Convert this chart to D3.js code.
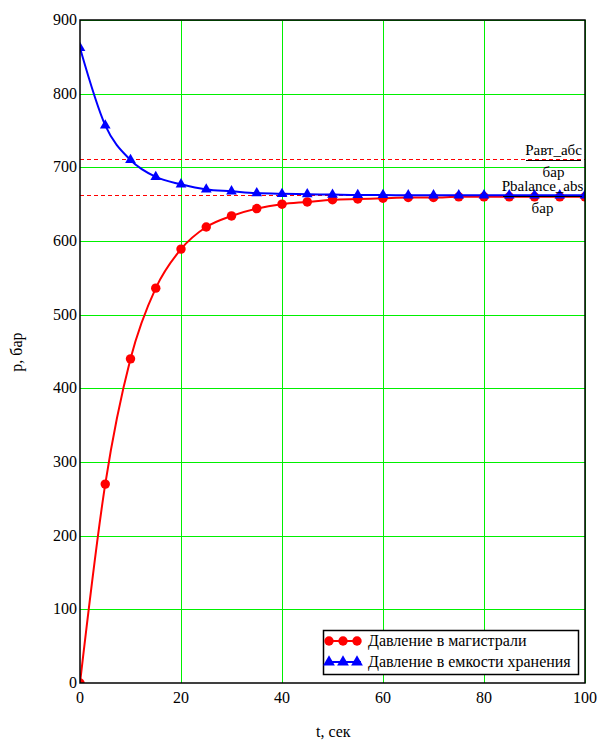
<!DOCTYPE html>
<html lang="ru">
<head>
<meta charset="UTF-8">
<title>Давление</title>
<script src="https://d3js.org/d3.v7.min.js"></script>
<style>
  body { margin: 0; background: #fff; }
  svg text { font-family: "Liberation Serif", "DejaVu Serif", serif; fill: #000; }
</style>
</head>
<body>
<svg width="613" height="743" font-family="Liberation Serif, DejaVu Serif, serif"></svg>
<script>
// time, seconds
var tValues = [0, 5, 10, 15, 20, 25, 30, 35, 40, 45, 50, 55, 60, 65, 70, 75, 80, 85, 90, 95, 100];
// pressure in the main line, bar
var pMain = [0, 270, 440, 536, 589, 619, 634, 644, 650, 653, 656, 657, 658, 659, 659, 660, 660, 660, 660, 660, 660];
// pressure in the storage tank, bar
var pTank = [862, 757, 710, 687, 677, 670, 667.5, 665, 664, 663.5, 663, 662.5, 662.5, 662, 662, 662, 662, 662, 662, 662, 662];
var pAvtAbs = 711;
var pBalanceAbs = 662;
var xTicks = [0, 20, 40, 60, 80, 100];
var yTicks = [0, 100, 200, 300, 400, 500, 600, 700, 800, 900];
var legendLabels = ["Давление в магистрали", "Давление в емкости хранения"];

var svg = d3.select("svg");
var mLeft = 80, mRight = 585, mTop = 20, mBottom = 683;

var x = d3.scaleLinear().domain([0, 100]).range([mLeft, mRight]);
var y = d3.scaleLinear().domain([0, 900]).range([mBottom, mTop]);
var crisp = v => Math.round(v) + 0.5;

svg.append("clipPath").attr("id", "clip")
    .append("rect")
    .attr("x", mLeft).attr("y", mTop)
    .attr("width", mRight - mLeft).attr("height", mBottom - mTop);

// grid
svg.append("g").selectAll("line")
    .data(xTicks.slice(1))
    .enter().append("line")
    .attr("x1", d => crisp(x(d))).attr("x2", d => crisp(x(d)))
    .attr("y1", mTop).attr("y2", mBottom)
    .attr("stroke", "#00f000").attr("stroke-width", 1);

svg.append("g").selectAll("line")
    .data(yTicks.slice(1))
    .enter().append("line")
    .attr("x1", mLeft).attr("x2", mRight)
    .attr("y1", d => crisp(y(d))).attr("y2", d => crisp(y(d)))
    .attr("stroke", "#00f000").attr("stroke-width", 1);

// reference lines
[pAvtAbs, pBalanceAbs].forEach(function (v) {
    svg.append("line")
        .attr("x1", mLeft).attr("x2", mRight)
        .attr("y1", crisp(y(v))).attr("y2", crisp(y(v)))
        .attr("stroke", "#ff0000").attr("stroke-width", 1)
        .attr("stroke-dasharray", "4,3");
});

var plot = svg.append("g").attr("clip-path", "url(#clip)");

var line = d3.line().curve(d3.curveMonotoneX);

var series = [
    { values: pMain, color: "#ff0000", marker: d3.symbolCircle, size: 70, legendSize: 70 },
    { values: pTank, color: "#0000ff", marker: d3.symbolTriangle, size: 50, legendSize: 60 }
];

series.forEach(function (s) {
    var pts = tValues.map((t, i) => [x(t), y(s.values[i])]);
    plot.append("path")
        .attr("d", line(pts))
        .attr("fill", "none")
        .attr("stroke", s.color)
        .attr("stroke-width", 2);
    plot.selectAll(null)
        .data(pts)
        .enter().append("path")
        .attr("d", d3.symbol().type(s.marker).size(s.size))
        .attr("transform", d => "translate(" + d[0] + "," + d[1] + ")")
        .attr("fill", s.color);
});

// frame
svg.append("rect")
    .attr("x", mLeft).attr("y", mTop)
    .attr("width", mRight - mLeft).attr("height", mBottom - mTop)
    .attr("fill", "none").attr("stroke", "#000").attr("stroke-width", 1.5);

// tick labels
svg.append("g").selectAll("text")
    .data(yTicks)
    .enter().append("text")
    .attr("x", mLeft - 3)
    .attr("y", d => y(d) + 5)
    .attr("text-anchor", "end")
    .attr("font-size", 16)
    .text(d => d);

svg.append("g").selectAll("text")
    .data(xTicks)
    .enter().append("text")
    .attr("x", d => x(d))
    .attr("y", 703)
    .attr("text-anchor", "middle")
    .attr("font-size", 16)
    .text(d => d);

// axis titles
svg.append("text")
    .attr("transform", "translate(22,352) rotate(-90)")
    .attr("text-anchor", "middle")
    .attr("font-size", 16)
    .text("p, бар");

svg.append("text")
    .attr("x", 316).attr("y", 737)
    .attr("font-size", 16)
    .text("t, сек");

// fraction labels at the right
function fraction(num, xl, xr, yBar) {
    svg.append("text")
        .attr("x", (xl + xr) / 2).attr("y", yBar - 6)
        .attr("text-anchor", "middle").attr("font-size", 15)
        .text(num);
    svg.append("line")
        .attr("x1", xl).attr("x2", xr)
        .attr("y1", yBar).attr("y2", yBar)
        .attr("stroke", "#000").attr("stroke-width", 1);
    svg.append("text")
        .attr("x", (xl + xr) / 2).attr("y", yBar + 16)
        .attr("text-anchor", "middle").attr("font-size", 15)
        .text("бар");
}
fraction("Pавт_абс", 526, 581, crisp(y(pAvtAbs)) + 1);
fraction("Pbalance_abs", 503, 582, crisp(y(pBalanceAbs)) + 1);

// legend
var lg = svg.append("g");
lg.append("rect")
    .attr("x", 323.5).attr("y", 630.5)
    .attr("width", 255).attr("height", 44)
    .attr("fill", "#fff").attr("stroke", "#000").attr("stroke-width", 1.5);

series.forEach(function (s, i) {
    var ly = 641 + i * 21;
    lg.append("line")
        .attr("x1", 327).attr("x2", 361)
        .attr("y1", ly).attr("y2", ly)
        .attr("stroke", s.color).attr("stroke-width", 2);
    lg.selectAll(null)
        .data([329, 343, 357])
        .enter().append("path")
        .attr("d", d3.symbol().type(s.marker).size(s.legendSize))
        .attr("transform", d => "translate(" + d + "," + ly + ")")
        .attr("fill", s.color);
    lg.append("text")
        .attr("x", 368).attr("y", ly + 5)
        .attr("font-size", 16)
        .text(legendLabels[i]);
});
</script>
</body>
</html>
